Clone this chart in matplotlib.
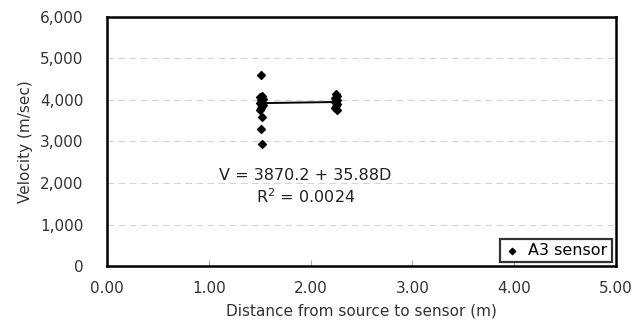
import matplotlib.pyplot as plt
import numpy as np

plt.rcParams['font.family'] = ['DejaVu Sans']

# A3 sensor readings at two source-sensor distances
dist_near = [1.51, 1.52, 1.50, 1.53, 1.51, 1.52, 1.50, 1.51, 1.53, 1.52, 1.51, 1.50, 1.52, 1.51, 1.52]
vel_near = [4610, 4100, 4060, 4020, 3990, 3960, 3930, 3900, 3880, 3850, 3810, 3760, 3600, 3310, 2950]
dist_far = [2.25, 2.26, 2.24, 2.26, 2.25, 2.24, 2.26, 2.25, 2.24, 2.26]
vel_far = [4150, 4100, 4050, 4010, 3980, 3950, 3910, 3860, 3800, 3750]

# fitted trend V = a + b*D
intercept = 3870.2
slope = 35.88

x_ticks = [0, 1, 2, 3, 4, 5]
y_ticks = [0, 1000, 2000, 3000, 4000, 5000, 6000]

fig, ax = plt.subplots(figsize=(6.42, 3.26), dpi=100)
fig.subplots_adjust(left=0.167, right=0.959, top=0.948, bottom=0.184)

all_d = np.array(dist_near + dist_far)
all_v = np.array(vel_near + vel_far)
ax.scatter(all_d, all_v, marker='D', s=16, color='black', zorder=3, label='A3 sensor')

xl = np.array([all_d.min(), all_d.max()])
ax.plot(xl, intercept + slope * xl, color='black', lw=1.4, zorder=2)

ax.text(1.95, 2190, 'V = 3870.2 + 35.88D', ha='center', va='center', fontsize=11.5, color='#222222')
ax.text(1.95, 1660, 'R$^2$ = 0.0024', ha='center', va='center', fontsize=11.5, color='#222222')

ax.set_xlim(0, 5)
ax.set_ylim(0, 6000)
ax.set_xticks(x_ticks)
ax.set_xticklabels(['%.2f' % v for v in x_ticks])
ax.set_yticks(y_ticks)
ax.set_yticklabels(['{:,}'.format(v) for v in y_ticks])
ax.yaxis.grid(True, linestyle=(0, (6, 4)), color='#d4d4d4', lw=0.8)
ax.set_axisbelow(True)
ax.tick_params(axis='x', direction='in', length=4, color='#aaaaaa', labelsize=11, labelcolor='#333333', pad=11)
ax.tick_params(axis='y', length=0, labelsize=11, labelcolor='#333333', pad=17)
for s in ax.spines.values():
    s.set_linewidth(1.8)
    s.set_color('black')

ax.set_xlabel('Distance from source to sensor (m)', fontsize=11, color='#333333', labelpad=5)
ax.set_ylabel('Velocity (m/sec)', fontsize=11, color='#333333', labelpad=5)

leg = ax.legend(loc='lower right', fontsize=11.5, frameon=True, fancybox=False,
                edgecolor='black', handlelength=1.0, handletextpad=0.5,
                borderpad=0.25, borderaxespad=0.25, markerscale=0.8)
leg.get_frame().set_linewidth(1.6)

fig.savefig('out.png', dpi=100)
